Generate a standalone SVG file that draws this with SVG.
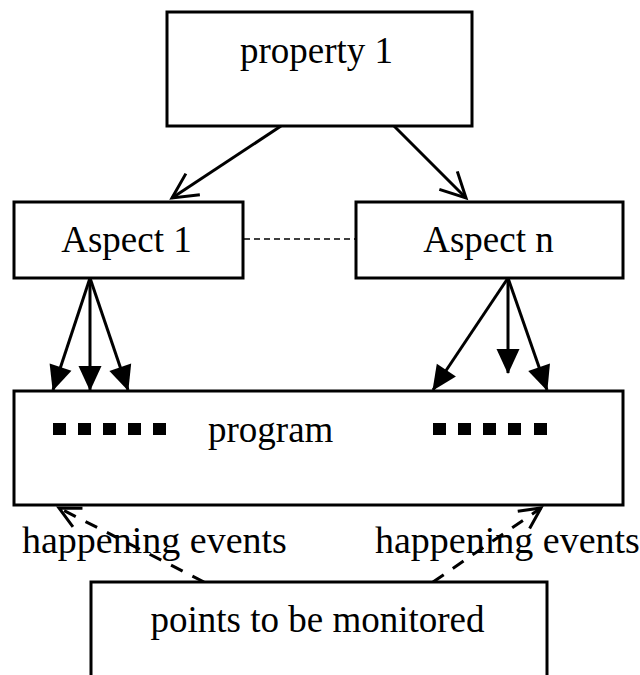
<svg xmlns="http://www.w3.org/2000/svg" width="640" height="675" viewBox="0 0 640 675">
  <style>
    .box { fill: #ffffff; stroke: #000000; stroke-width: 3; }
    .lbl { font-family: "Liberation Serif", "Times New Roman", serif; font-size: 37px; fill: #000000; }
    .big { font-size: 38px; }
    .mid { text-anchor: middle; }
    .edge { stroke: #000000; stroke-width: 3; fill: none; }
    .dash { stroke: #000000; stroke-width: 3; fill: none; stroke-dasharray: 13 11; }
    .link { stroke: #000000; stroke-width: 1.5; fill: none; stroke-dasharray: 6 4; }
    .dot { fill: #000000; }
  </style>
  <defs>
    <marker id="open" markerUnits="userSpaceOnUse" viewBox="-3 -3 32 32" markerWidth="32" markerHeight="32" refX="25" refY="12.7" orient="auto" overflow="visible">
      <path d="M0,0 L25,12.7 L0,25.4" fill="none" stroke="#000000" stroke-width="3" stroke-linejoin="miter"/>
    </marker>
    <marker id="openSmall" markerUnits="userSpaceOnUse" viewBox="-3 -3 28 28" markerWidth="28" markerHeight="28" refX="21" refY="10.5" orient="auto" overflow="visible">
      <path d="M0,0 L21,10.5 L0,21" fill="none" stroke="#000000" stroke-width="3"/>
    </marker>
    <marker id="solid" markerUnits="userSpaceOnUse" viewBox="0 0 25 23" markerWidth="25" markerHeight="23" refX="24" refY="11.5" orient="auto" overflow="visible">
      <path d="M0,0 L25,11.5 L0,23 Z" fill="#000000"/>
    </marker>
  </defs>

  <!-- connectors -->
  <g id="connectors">
    <line class="edge" x1="281" y1="126" x2="172" y2="198" marker-end="url(#open)"/>
    <line class="edge" x1="394" y1="126" x2="466" y2="198" marker-end="url(#open)"/>
    <line class="link" x1="244" y1="239" x2="356" y2="239"/>
    <line class="edge" x1="90" y1="278" x2="53" y2="390" marker-end="url(#solid)"/>
    <line class="edge" x1="90" y1="278" x2="90" y2="390" marker-end="url(#solid)"/>
    <line class="edge" x1="90" y1="278" x2="128" y2="390" marker-end="url(#solid)"/>
    <line class="edge" x1="508" y1="278" x2="433" y2="390" marker-end="url(#solid)"/>
    <line class="edge" x1="508" y1="278" x2="508" y2="373" marker-end="url(#solid)"/>
    <line class="edge" x1="508" y1="278" x2="547" y2="390" marker-end="url(#solid)"/>
    <line class="dash" x1="204" y1="582" x2="59" y2="508" marker-end="url(#openSmall)"/>
    <line class="dash" x1="433" y1="582" x2="541" y2="508" marker-end="url(#openSmall)"/>
  </g>

  <g id="property1">
    <rect class="box" x="167" y="12" width="305" height="114"/>
    <text class="lbl mid" x="316.5" y="63">property 1</text>
  </g>

  <g id="aspect1">
    <rect class="box" x="14" y="202" width="229" height="76"/>
    <text class="lbl mid" x="126.5" y="252">Aspect 1</text>
  </g>

  <g id="aspectN">
    <rect class="box" x="356" y="202" width="267" height="76"/>
    <text class="lbl mid" x="488.5" y="252">Aspect n</text>
  </g>

  <g id="program">
    <rect class="box" x="14" y="391" width="609" height="114"/>
    <g class="dot">
      <rect x="53" y="423" width="13" height="12"/>
      <rect x="78" y="423" width="13" height="12"/>
      <rect x="103" y="423" width="13" height="12"/>
      <rect x="128" y="423" width="13" height="12"/>
      <rect x="153" y="423" width="13" height="12"/>
      <rect x="433" y="423" width="13" height="12"/>
      <rect x="458" y="423" width="13" height="12"/>
      <rect x="483" y="423" width="13" height="12"/>
      <rect x="508" y="423" width="13" height="12"/>
      <rect x="534" y="423" width="13" height="12"/>
    </g>
    <text class="lbl" x="208" y="442">program</text>
  </g>

  <g id="monitorPoints">
    <rect class="box" x="91" y="582" width="456" height="110"/>
    <text class="lbl mid" x="317.5" y="632">points to be monitored</text>
  </g>

  <g id="eventLabels">
    <text class="lbl big" x="22" y="553">happening events</text>
    <text class="lbl big" x="375" y="553">happening events</text>
  </g>
</svg>
